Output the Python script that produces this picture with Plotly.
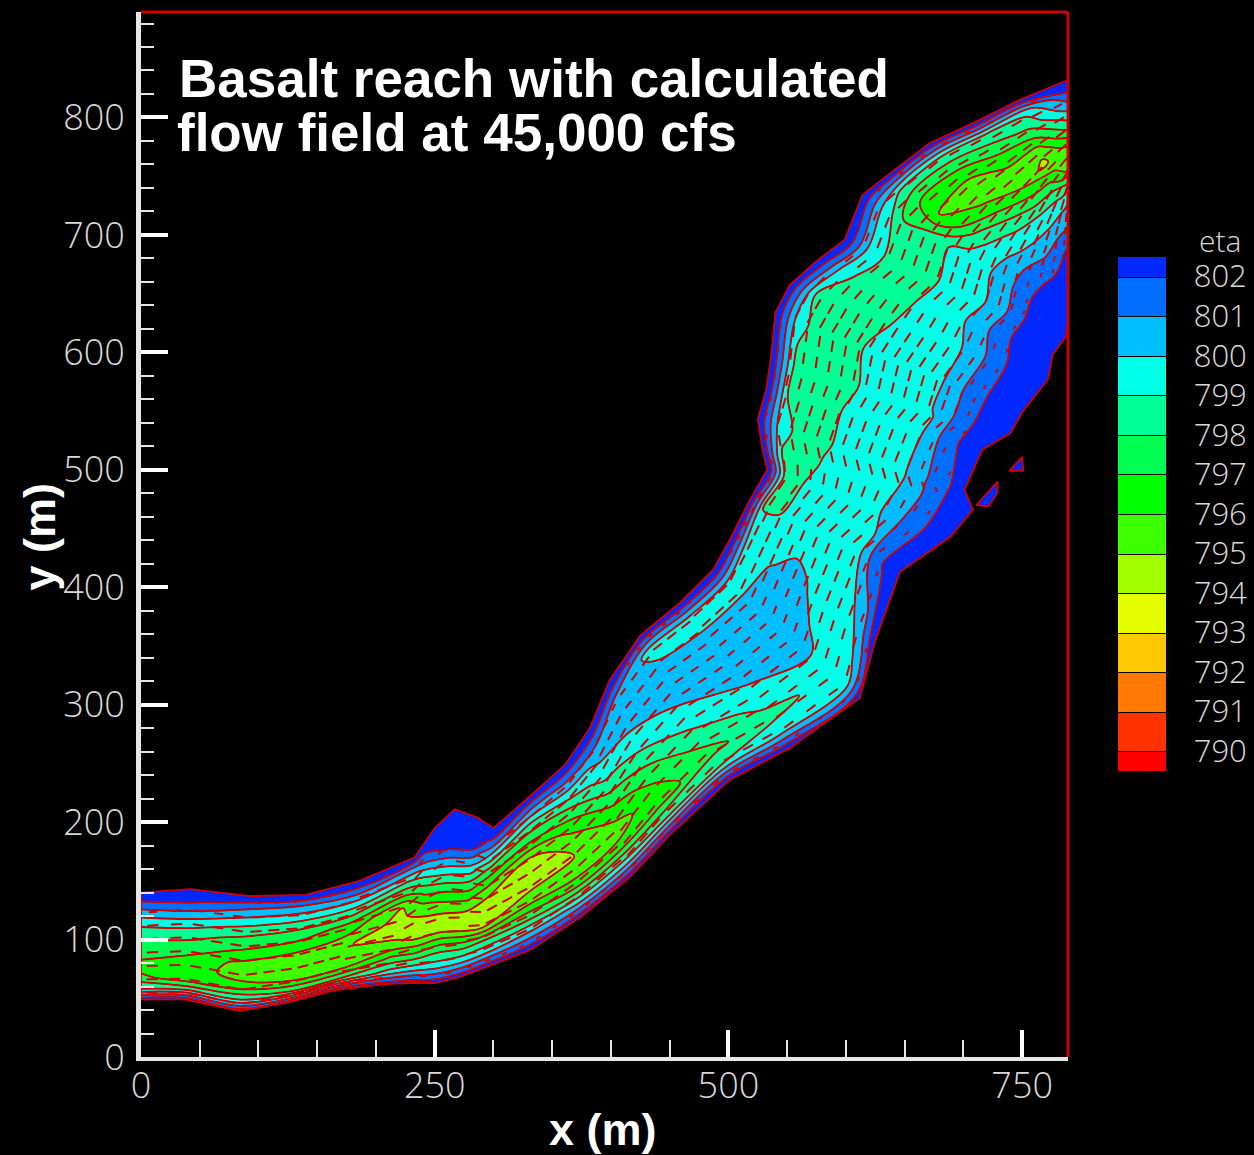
import plotly.graph_objects as go

# River cross-sections, metres: bank on the north/west side, bank on the south/east side
left_x = [0, 42, 93, 140, 186, 233, 250, 267, 286, 300, 331, 361, 382, 399, 425, 459, 487, 501,
          518, 533, 529, 525, 532, 536, 540, 552, 574, 599, 614, 633, 671, 710, 748, 789]
left_y = [140, 143, 137, 138, 150, 170, 195, 211, 204, 195, 222, 249, 280, 321, 359, 387, 415, 440,
          474, 500, 517, 543, 568, 594, 634, 657, 677, 696, 734, 749, 778, 796, 815, 832]
right_x = [0, 37, 84, 127, 165, 208, 229, 250, 271, 287, 331, 374, 416, 450, 501, 552, 612, 625,
           646, 689, 708, 701, 716, 740, 750, 772, 776, 787, 789, 789, 789, 789, 789, 789]
right_y = [49, 49, 39, 47, 57, 62, 63, 63, 68, 74, 91, 119, 153, 189, 236, 263, 306, 355,
           413, 443, 466, 483, 517, 531, 549, 577, 598, 613, 628, 645, 662, 683, 704, 725]

# Water-surface elevation read at 11 stations across each section
eta = [
    [803, 801.8, 800.4, 799.2, 798.3, 797.6, 797.2, 796.5, 797.4, 799, 802.5],
    [803, 802.3, 801, 799.6, 798.5, 797.7, 797, 796.6, 796.2, 798.5, 802.6],
    [803, 801.2, 799.8, 798.5, 797.5, 796.7, 795.6, 795.5, 796.8, 799, 802.7],
    [803, 801, 799.6, 798.2, 797.3, 796.3, 795.5, 795.1, 796, 798, 802.5],
    [803, 801.5, 799.8, 798.3, 796.8, 796, 795.1, 795, 795.8, 798, 802.5],
    [803, 800.8, 798.8, 797, 795, 794.6, 794.5, 795.5, 797.3, 799.3, 802.5],
    [803, 802.7, 801.3, 799.3, 797.5, 795.8, 794.7, 794.7, 796.8, 799.3, 802.6],
    [803, 802.9, 802.6, 800.6, 798.5, 796.5, 795, 794.8, 797.5, 799.5, 802.7],
    [803, 802.9, 802, 800, 798, 796.3, 794.8, 794.7, 797.5, 799.7, 802.7],
    [803, 801.8, 799.8, 797.7, 796.2, 795, 794.5, 795, 798, 800, 802.7],
    [803, 800.8, 798.5, 797, 795, 794, 794.8, 796, 798, 800.5, 802.8],
    [803, 801.2, 799.5, 797.8, 796.5, 795.5, 795, 795.3, 797, 799.8, 802.8],
    [803, 801.3, 800.2, 799.6, 798.5, 797.3, 796.2, 795.4, 796.8, 799.5, 802.8],
    [803, 801, 800.6, 800.2, 799.6, 798.7, 797.6, 796.8, 796.5, 798.8, 802.8],
    [803, 799.7, 800.1, 800.5, 800.3, 799.9, 799.3, 798.5, 797.7, 799, 802.9],
    [803, 799.7, 800, 800.5, 800.6, 800.3, 799.9, 799.2, 798.7, 799.7, 802.9],
    [803, 799.8, 800, 800.5, 800.7, 800.7, 800.4, 799.8, 799.3, 799.6, 802.8],
    [803, 799.7, 799.8, 800.1, 800.5, 800.2, 799.6, 799.3, 799.4, 800.5, 802.8],
    [803, 798.9, 799, 799.2, 799.3, 799.2, 799.2, 799.3, 801, 802.2, 802.9],
    [803, 798.6, 799, 799.3, 799.3, 799.3, 799.8, 800.7, 801.5, 802.3, 803],
    [803, 798.7, 798.6, 799.2, 799.4, 799.4, 799.7, 800.4, 801.5, 802.4, 802.9],
    [803, 799.8, 798.6, 798.7, 799.2, 799.4, 799.4, 799.8, 800.8, 801.7, 802.6],
    [803, 799, 798.6, 798.7, 799.3, 799.4, 799.5, 799.7, 801, 802.1, 802.6],
    [803, 798.8, 798.7, 798.6, 799.2, 799.4, 799.7, 800.1, 801.5, 802.5, 803],
    [803, 799.2, 798.6, 798.6, 799.3, 799.4, 799.5, 800.1, 801.5, 802.4, 803],
    [803, 799, 798.6, 798.6, 799, 799.4, 799.6, 800.2, 801.6, 802.6, 803],
    [803, 799.8, 798.5, 798.4, 798.9, 799.3, 799.7, 800.6, 801.8, 802.6, 803],
    [803, 800, 798.7, 798.4, 798.9, 799.3, 799.7, 800.5, 801.9, 802.6, 803],
    [803, 799.9, 798, 798.3, 798.9, 799.4, 799.8, 800.6, 801.8, 802.6, 803],
    [803, 798.7, 796.9, 795.9, 796.9, 798.5, 799.5, 800.3, 801.5, 802.2, 802.9],
    [803, 798.7, 797, 795.6, 795.6, 797, 798.6, 799.6, 800.6, 801.7, 802.7],
    [803, 798.9, 797.5, 796.4, 795.5, 796, 797.4, 799, 800, 801.2, 802.3],
    [803, 799.3, 798.3, 796.9, 795.4, 794.7, 796.5, 798, 799.4, 800.3, 801.1],
    [803, 802, 800.7, 799.3, 798, 796.4, 795, 795.6, 797.7, 799.4, 800.1],
]

# Small wet patches beside the rock outcrop near the east bank
patch_a_x = [750, 739, 751, 750]
patch_a_y = [511, 499, 499, 511]
patch_b_x = [729, 711, 721, 729, 729]
patch_b_y = [490, 470, 469, 480, 490]

level_colors = ["#ff0000", "#ff3200", "#ff7800", "#ffc800", "#e6ff00", "#a0ff00", "#3cff00",
                "#00ff00", "#00ff50", "#00ff96", "#00ffe6", "#00beff", "#006eff", "#0028ff"]
level_min, level_max = 790, 802
title_lines = ["Basalt reach with calculated", "flow field at 45,000 cfs"]

RED = "#d20000"
AXIS = "#e6e6e6"
TICKF = "#d8d8d8"
TICKFONT = "Open Sans"
n_sec, n_st = len(eta), len(eta[0])
sec_idx = list(range(n_sec))
st_idx = list(range(n_st))


def lerp(a, b, t):
    return a + (b - a) * t


grid_x = [[lerp(left_x[i], right_x[i], j / (n_st - 1)) for j in st_idx] for i in sec_idx]
grid_y = [[lerp(left_y[i], right_y[i], j / (n_st - 1)) for j in st_idx] for i in sec_idx]


def sample(table, s, t):
    i = min(int(s), n_sec - 2)
    j = min(int(t), n_st - 2)
    fs, ft = s - i, t - j
    return lerp(lerp(table[i][j], table[i][j + 1], ft), lerp(table[i + 1][j], table[i + 1][j + 1], ft), fs)


# Short flow vectors placed along the section grid; they shrink where the water is shallow
vx, vy = [], []
for i in range(n_sec - 1):
    gap = ((left_x[i + 1] + right_x[i + 1] - left_x[i] - right_x[i]) ** 2 +
           (left_y[i + 1] + right_y[i + 1] - left_y[i] - right_y[i]) ** 2) ** 0.5 / 2
    rows = max(1, round(gap / 17))
    for r in range(rows):
        s = i + (r + 0.5) / rows
        w = ((sample(grid_x, s, 0) - sample(grid_x, s, n_st - 1)) ** 2 +
             (sample(grid_y, s, 0) - sample(grid_y, s, n_st - 1)) ** 2) ** 0.5
        cols = max(6, round(w / 11.5))
        for c in range(cols):
            t = (c + 0.5) / cols * (n_st - 1)
            z = sample(eta, s, t)
            if z > 802:
                continue
            ds = 0.15
            s0, s1 = max(0, s - ds), min(n_sec - 1, s + ds)
            dx = sample(grid_x, s1, t) - sample(grid_x, s0, t)
            dy = sample(grid_y, s1, t) - sample(grid_y, s0, t)
            norm = (dx * dx + dy * dy) ** 0.5 or 1
            size = min(9.5, 3 + 3.2 * (802 - z))
            x0, y0 = sample(grid_x, s, t), sample(grid_y, s, t)
            vx += [x0 - dx / norm * size / 2, x0 + dx / norm * size / 2, None]
            vy += [y0 - dy / norm * size / 2, y0 + dy / norm * size / 2, None]

stops = [[k / (len(level_colors) - 1), c] for k, c in enumerate(level_colors)]

fig = go.Figure()
fig.add_trace(go.Carpet(
    carpet="river", a=st_idx, b=sec_idx, x=grid_x, y=grid_y,
    aaxis=dict(showgrid=False, minorgridcount=0, startline=False, endline=False, showticklabels="none",
               tickmode="array", tickvals=[], smoothing=0),
    baxis=dict(showgrid=False, minorgridcount=0, startline=False, endline=False, showticklabels="none",
               tickmode="array", tickvals=[], smoothing=0),
))
fig.add_trace(go.Contourcarpet(
    carpet="river", a=st_idx, b=sec_idx, z=eta,
    autocontour=False,
    contours=dict(start=level_min, end=level_max, size=1, coloring="fill", showlines=True),
    line=dict(color="black", width=1),
    colorscale=stops, zauto=False, zmin=level_min - 0.5, zmax=level_max + 0.5,
    colorbar=dict(
        xref="container", yref="container",
        x=0.8919, xanchor="left", xpad=0, thickness=48,
        lenmode="pixels", len=514, y=0.7542, yanchor="top", ypad=0,
        outlinewidth=0, tick0=790, dtick=1, ticks="outside", ticklen=22, tickcolor="black",
        tickfont=dict(family=TICKFONT, size=31, color=TICKF, weight=300),
        bgcolor="black",
    ),
))
fig.add_trace(go.Contourcarpet(
    carpet="river", a=st_idx, b=sec_idx, z=eta,
    autocontour=False, showscale=False,
    contours=dict(start=level_min, end=level_max, size=1, coloring="none", showlines=True),
    line=dict(color=RED, width=1.8),
))
fig.add_trace(go.Scatter(
    x=left_x + right_x[::-1] + left_x[:1], y=left_y + right_y[::-1] + left_y[:1],
    mode="lines", line=dict(color=RED, width=1.8), hoverinfo="skip", showlegend=False,
))
fig.add_trace(go.Scatter(x=vx, y=vy, mode="lines", line=dict(color=RED, width=2),
                         hoverinfo="skip", showlegend=False))
for px, py in ((patch_a_x, patch_a_y), (patch_b_x, patch_b_y)):
    fig.add_trace(go.Scatter(x=px, y=py, mode="lines", fill="toself", fillcolor=level_colors[-1],
                             line=dict(color=RED, width=1.8), hoverinfo="skip", showlegend=False))

TITLE_FONT = dict(family="Liberation Sans", size=53, color="white", weight="bold")
AXIS_TITLE_FONT = dict(family="Liberation Sans", size=45, color="white", weight="bold")
fig.add_annotation(x=30.6, y=833, xref="x", yref="y", text=title_lines[0], showarrow=False,
                   xanchor="left", yanchor="middle", font=TITLE_FONT)
fig.add_annotation(x=29, y=787, xref="x", yref="y", text=title_lines[1], showarrow=False,
                   xanchor="left", yanchor="middle", font=TITLE_FONT)
fig.add_annotation(x=1.164, y=0.781, xref="paper", yref="paper", text="eta", showarrow=False,
                   xanchor="center", yanchor="middle",
                   font=dict(family=TICKFONT, size=30, color=TICKF, weight=300))
fig.add_annotation(x=0.498, y=-0.0693, xref="paper", yref="paper", text="x (m)", showarrow=False,
                   xanchor="center", yanchor="middle", font=AXIS_TITLE_FONT)
fig.add_annotation(x=-0.109, y=0.498, xref="paper", yref="paper", text="y (m)", showarrow=False,
                   xanchor="center", yanchor="middle", textangle=-90, font=AXIS_TITLE_FONT)

fig.update_layout(
    width=1254, height=1155, autosize=False, showlegend=False,
    paper_bgcolor="black", plot_bgcolor="black",
    margin=dict(l=141, r=186, t=12, b=97.5),
    xaxis=dict(range=[0, 789], showgrid=False, zeroline=False, showline=True, linecolor=AXIS, linewidth=4,
               ticks="inside", tick0=0, dtick=250, ticklen=27, tickwidth=4, tickcolor="white",
               minor=dict(ticks="inside", dtick=50, ticklen=17, tickwidth=2, tickcolor=AXIS),
               tickfont=dict(family=TICKFONT, size=36, color=TICKF, weight=300), ticklabelstandoff=-6),
    yaxis=dict(range=[0, 889.8], showgrid=False, zeroline=False, showline=True, linecolor=AXIS, linewidth=5,
               ticks="inside", tick0=0, dtick=100, ticklen=27, tickwidth=4, tickcolor="white",
               minor=dict(ticks="inside", dtick=20, ticklen=13, tickwidth=2, tickcolor=AXIS),
               tickfont=dict(family=TICKFONT, size=36, color=TICKF, weight=300), ticklabelstandoff=4),
    shapes=[
        dict(type="line", xref="paper", yref="paper", x0=0, x1=1, y0=1, y1=1, line=dict(color="#cc0000", width=3)),
        dict(type="line", xref="paper", yref="paper", x0=1, x1=1, y0=0, y1=1, line=dict(color="#cc0000", width=3)),
    ],
)

fig.write_html("out.html", config={"displayModeBar": False},
               post_script="document.body.style.margin='0';document.body.style.background='black';")
